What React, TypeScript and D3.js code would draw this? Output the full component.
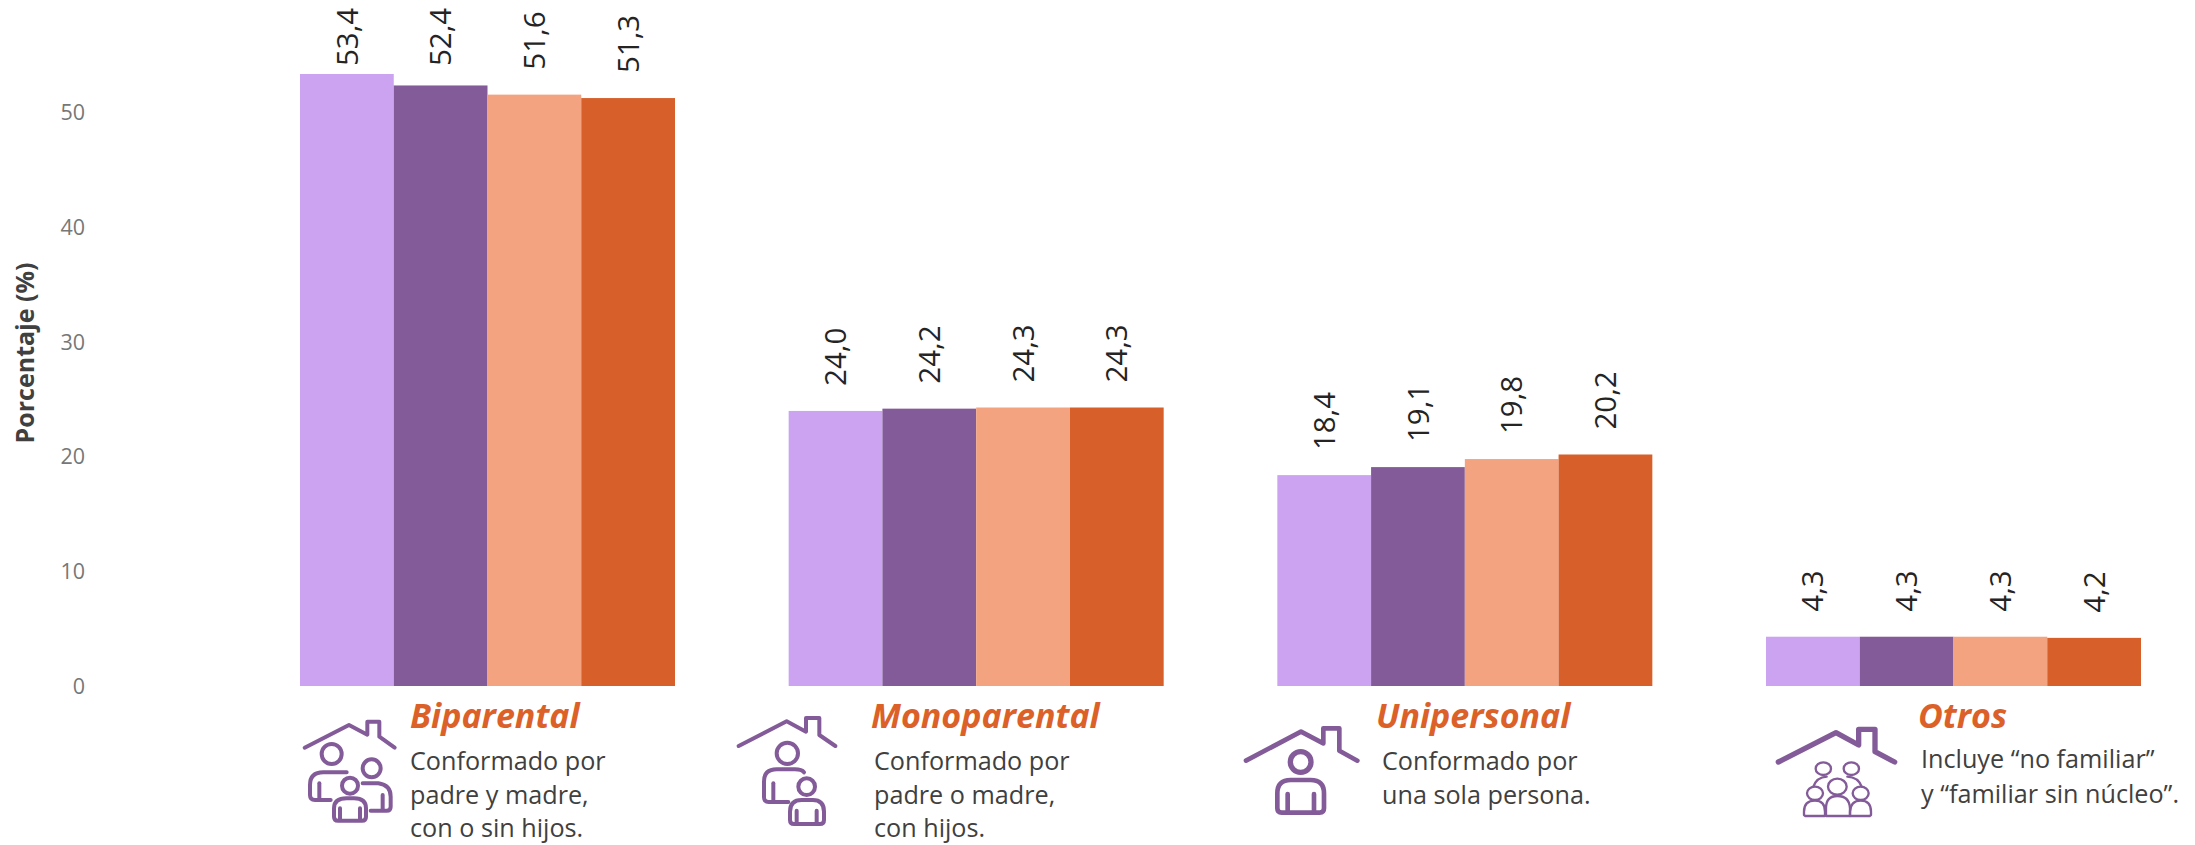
import React from "react";
import * as d3 from "d3";

const categories = ["Biparental", "Monoparental", "Unipersonal", "Otros"];
const seriesKeys = ["s1", "s2", "s3", "s4"];
const s1 = [53.4, 24.0, 18.4, 4.3];
const s2 = [52.4, 24.2, 19.1, 4.3];
const s3 = [51.6, 24.3, 19.8, 4.3];
const s4 = [51.3, 24.3, 20.2, 4.2];
const seriesValues = [s1, s2, s3, s4];
const colors = ["#CBA3F0", "#835B99", "#F3A380", "#D65F2A"];
const yTicks = [0, 10, 20, 30, 40, 50];
const descriptions = [
  ["Conformado por", "padre y madre,", "con o sin hijos."],
  ["Conformado por", "padre o madre,", "con hijos."],
  ["Conformado por", "una sola persona."],
  ["Incluye “no familiar”", "y “familiar sin núcleo”."],
];
const titleX = [410, 871, 1376, 1918];
const descX = [410, 874, 1382, 1921];
const descY = [[770, 804, 837], [770, 804, 837], [770, 804], [768, 803]];

const FONT = "'Open Sans', 'Noto Sans', sans-serif";
const PURPLE = "#835B99";

const y = d3.scaleLinear().domain([0, 53.4]).range([686, 74]);
const x0 = d3.scaleBand<string>().domain(categories).range([300, 2141]).paddingInner(0.2326).paddingOuter(0);
const x1 = d3.scaleBand<string>().domain(seriesKeys).range([0, x0.bandwidth()]);

function fmt(v: number) {
  return d3.format(".1f")(v).replace(".", ",");
}

function Icon({ ox, oy, children, sw }: { ox: number; oy: number; sw: number; children: React.ReactNode }) {
  return (
    <g
      transform={`translate(${ox},${oy}) scale(${1 / 3})`}
      fill="none"
      stroke={PURPLE}
      strokeWidth={sw}
      strokeLinecap="round"
      strokeLinejoin="round"
    >
      {children}
    </g>
  );
}

const icons = [
  <Icon key="a" ox={280} oy={680} sw={12}>
    <path d="M74,203 L207,135 L262,164 V125 H298 V170 L344,203" />
    <circle cx={155} cy={222} r={30} />
    <path d="M200,277 H130 Q90,277 90,315 V345 Q90,360 105,360 H152" />
    <path d="M118,310 V355" />
    <circle cx={275} cy={265} r={27} />
    <path d="M248,310 H295 Q332,315 332,350 V380 Q332,392 320,392 H272" />
    <path d="M308,345 V388" />
    <circle cx={210} cy={317} r={24} />
    <path d="M162,385 Q162,355 200,355 H222 Q258,355 258,385 V410 Q258,422 246,422 H174 Q162,422 162,410 Z" />
    <path d="M180,385 V420 M240,385 V420" />
  </Icon>,
  <Icon key="b" ox={720} oy={680} sw={12}>
    <path d="M56,198 L200,124 L258,155 V114 H298 V165 L346,198" />
    <circle cx={202} cy={220} r={32} />
    <path d="M252,277 Q245,268 225,268 H170 Q132,268 132,305 V352 Q132,366 146,366 H205" />
    <path d="M160,310 V362" />
    <circle cx={260} cy={320} r={25} />
    <path d="M210,395 Q210,360 245,360 H278 Q312,360 312,395 V420 Q312,432 300,432 H222 Q210,432 210,420 Z" />
    <path d="M230,392 V430 M290,392 V430" />
  </Icon>,
  <Icon key="c" ox={1220} oy={680} sw={14}>
    <path d="M78,242 L243,155 L310,190 V145 H358 V212 L412,242" />
    <circle cx={242} cy={246} r={31} strokeWidth={16} />
    <path d="M172,340 Q172,300 212,300 H272 Q312,300 312,340 V385 Q312,398 299,398 H185 Q172,398 172,385 Z" />
    <path d="M203,342 V395 M282,342 V395" />
  </Icon>,
  <Icon key="d" ox={1760} oy={680} sw={7}>
    <path d="M55,246 L228,158 L296,195 V148 H345 V215 L404,246" strokeWidth={16} />
    <ellipse cx={190} cy={266} rx={23} ry={19} />
    <ellipse cx={274} cy={266} rx={23} ry={19} />
    <ellipse cx={165} cy={340} rx={24} ry={20} />
    <ellipse cx={302} cy={340} rx={24} ry={20} />
    <ellipse cx={232} cy={320} rx={28} ry={24} />
    <path d="M132,405 V395 Q132,362 165,362 Q195,362 195,395 V408 H136 Z" />
    <path d="M198,408 V385 Q198,348 232,348 Q268,348 270,385 V408 Z" />
    <path d="M270,408 V395 Q272,362 302,362 Q333,362 333,395 V405 L329,408 Z" />
    <path d="M160,320 Q170,292 200,290 M262,290 Q295,292 305,320" />
  </Icon>,
];

export default function App() {
  return (
    <svg
      width={2195}
      height={845}
      viewBox="0 0 2195 845"
      style={{ position: "absolute", left: 0, top: 0, background: "#fff" }}
      fontFamily={FONT}
    >
      <text
        transform={`translate(25,353) rotate(-90)`}
        dy="0.35em"
        textAnchor="middle"
        fontSize={25}
        fontWeight={700}
        fill="#404040"
      >
        Porcentaje (%)
      </text>
      {yTicks.map((t) => (
        <text key={t} x={85} y={y(t)} dy="0.35em" textAnchor="end" fontSize={21.5} fill="#777777">
          {t}
        </text>
      ))}
      {categories.map((c, i) => (
        <g key={c} transform={`translate(${x0(c)},0)`}>
          {seriesKeys.map((k, j) => {
            const v = seriesValues[j][i];
            const top = y(v);
            const bx = x1(k)!;
            const labelBottom = Math.max(66, top - 25);
            return (
              <g key={k}>
                <rect x={bx} y={top} width={x1.bandwidth()} height={y(0) - top} fill={colors[j]} />
                <text
                  transform={`translate(${bx + x1.bandwidth() / 2},${labelBottom}) rotate(-90)`}
                  dy="0.36em"
                  fontSize={29.5}
                  fill="#252423"
                >
                  {fmt(v)}
                </text>
              </g>
            );
          })}
        </g>
      ))}
      {icons}
      {categories.map((c, i) => (
        <g key={c}>
          <text x={titleX[i]} y={728} fontSize={34} fontWeight={700} fontStyle="italic" fill="#DB6128">
            {c}
          </text>
          {descriptions[i].map((line, j) => (
            <text key={j} x={descX[i]} y={descY[i][j]} fontSize={25.2} fill="#404040">
              {line}
            </text>
          ))}
        </g>
      ))}
    </svg>
  );
}
